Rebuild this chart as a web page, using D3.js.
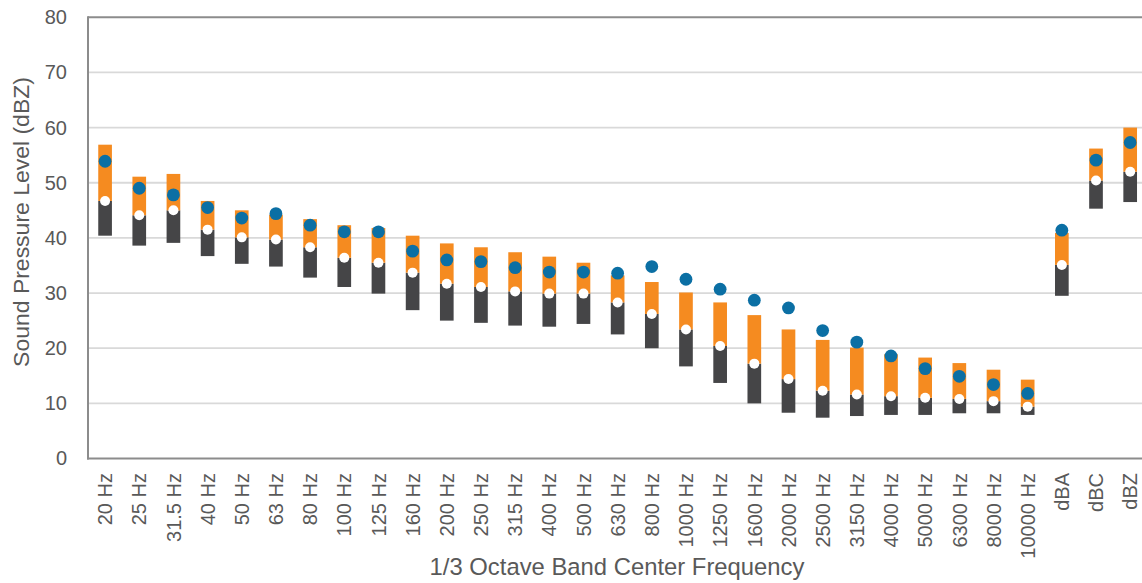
<!DOCTYPE html>
<html><head><meta charset="utf-8">
<script src="https://cdn.jsdelivr.net/npm/d3@7"></script>
<style>body{margin:0;background:#fff;overflow:hidden}</style>
</head><body>
<svg id="c" width="1142" height="583"></svg>
<script>
const categories = ["20 Hz","25 Hz","31.5 Hz","40 Hz","50 Hz","63 Hz","80 Hz","100 Hz","125 Hz","160 Hz","200 Hz","250 Hz","315 Hz","400 Hz","500 Hz","630 Hz","800 Hz","1000 Hz","1250 Hz","1600 Hz","2000 Hz","2500 Hz","3150 Hz","4000 Hz","5000 Hz","6300 Hz","8000 Hz","10000 Hz","dBA","dBC","dBZ"];
const minVals = [40.4,38.6,39.1,36.7,35.3,34.8,32.8,31.1,29.9,26.9,25.0,24.6,24.1,23.9,24.4,22.5,20.0,16.7,13.7,10.0,8.3,7.4,7.7,7.9,7.9,8.2,8.2,7.9,29.5,45.3,46.5];
const medianVals = [46.7,44.1,45.0,41.5,40.1,39.7,38.3,36.4,35.5,33.7,31.7,31.1,30.3,29.9,29.9,28.3,26.2,23.4,20.4,17.2,14.4,12.3,11.6,11.3,11.0,10.8,10.4,9.4,35.1,50.4,52.0];
const maxVals = [56.9,51.1,51.6,46.7,45.0,44.2,43.4,42.3,41.8,40.4,39.0,38.3,37.4,36.6,35.5,33.2,32.0,30.1,28.3,26.0,23.4,21.5,20.1,18.9,18.3,17.3,16.1,14.3,40.9,56.2,60.0];
const meanVals = [53.9,49.0,47.8,45.5,43.6,44.4,42.3,41.1,41.1,37.6,36.0,35.7,34.6,33.8,33.8,33.6,34.8,32.5,30.7,28.7,27.3,23.2,21.1,18.6,16.3,14.9,13.4,11.8,41.4,54.1,57.3];
const yTicks = [0,10,20,30,40,50,60,70,80];

const svg = d3.select("#c");
const L = 88, T = 17.3, B = 458.5, bandW = 34.17;
const R = L + bandW * categories.length;
const font = "'Liberation Sans', Arial, sans-serif";
const txt = "#595959";

const x = d3.scaleBand().domain(categories).range([L, R]).padding(0);
const y = d3.scaleLinear().domain([0, 80]).range([B, T]);
const bw = x.bandwidth() * 0.4;

// gridlines
svg.append("g").selectAll("line").data(yTicks.filter(d => d > 0 && d < 80)).join("line")
  .attr("x1", L).attr("x2", R).attr("y1", d => y(d)).attr("y2", d => y(d))
  .attr("stroke", "#d9d9d9").attr("stroke-width", 1.8);

// plot border (top, left, bottom)
svg.append("line").attr("x1", L).attr("x2", R).attr("y1", y(80)).attr("y2", y(80)).attr("stroke", "#8c8c8c").attr("stroke-width", 2);

const data = categories.map((c, i) => ({c, min: minVals[i], med: medianVals[i], max: maxVals[i], mean: meanVals[i]}));

// dark bars (min -> median)
svg.append("g").selectAll("rect").data(data).join("rect")
  .attr("x", d => x(d.c) + (x.bandwidth() - bw) / 2).attr("width", bw)
  .attr("y", d => y(d.med)).attr("height", d => y(d.min) - y(d.med))
  .attr("fill", "#454547");
// orange bars (median -> max)
svg.append("g").selectAll("rect").data(data).join("rect")
  .attr("x", d => x(d.c) + (x.bandwidth() - bw) / 2).attr("width", bw)
  .attr("y", d => y(d.max)).attr("height", d => y(d.med) - y(d.max))
  .attr("fill", "#f58b20");
// white median dots
svg.append("g").selectAll("circle").data(data).join("circle")
  .attr("cx", d => x(d.c) + x.bandwidth() / 2).attr("cy", d => y(d.med)).attr("r", 5)
  .attr("fill", "#ffffff");
// blue mean dots
svg.append("g").selectAll("circle").data(data).join("circle")
  .attr("cx", d => x(d.c) + x.bandwidth() / 2).attr("cy", d => y(d.mean)).attr("r", 6.4)
  .attr("fill", "#0b6fa4");

// axes lines
svg.append("line").attr("x1", L).attr("x2", L).attr("y1", y(80) - 1).attr("y2", B + 1).attr("stroke", "#8c8c8c").attr("stroke-width", 2);
svg.append("line").attr("x1", L - 1).attr("x2", R).attr("y1", B).attr("y2", B).attr("stroke", "#8c8c8c").attr("stroke-width", 2);

// y axis ticks via d3 axis
const yAxis = svg.append("g").attr("transform", `translate(${L},0)`)
  .call(d3.axisLeft(y).tickValues(yTicks).tickSize(0).tickPadding(21));
yAxis.select(".domain").remove();
yAxis.selectAll("text").attr("font-family", font).attr("font-size", 20).attr("fill", txt);

// x axis labels
const xAxis = svg.append("g").attr("transform", `translate(0,${B})`)
  .call(d3.axisBottom(x).tickSize(0).tickPadding(0));
xAxis.select(".domain").remove();
xAxis.selectAll("text")
  .attr("font-family", font).attr("font-size", 20).attr("fill", txt)
  .attr("text-anchor", "end").attr("transform", "rotate(-90)")
  .attr("x", -14.5).attr("y", 0).attr("dy", "0.36em");

// titles
const yt = svg.append("text").text("Sound Pressure Level (dBZ)")
  .attr("font-family", font).attr("fill", txt).attr("font-size", 20)
  .attr("text-anchor", "middle").attr("transform", "translate(29,222) rotate(-90)");
let len = yt.node().getComputedTextLength();
yt.attr("font-size", 20 * 290 / len);
const xt = svg.append("text").text("1/3 Octave Band Center Frequency")
  .attr("font-family", font).attr("fill", txt).attr("font-size", 20)
  .attr("text-anchor", "middle").attr("x", 617).attr("y", 575);
len = xt.node().getComputedTextLength();
xt.attr("font-size", 20 * 375 / len);
</script>
</body></html>
